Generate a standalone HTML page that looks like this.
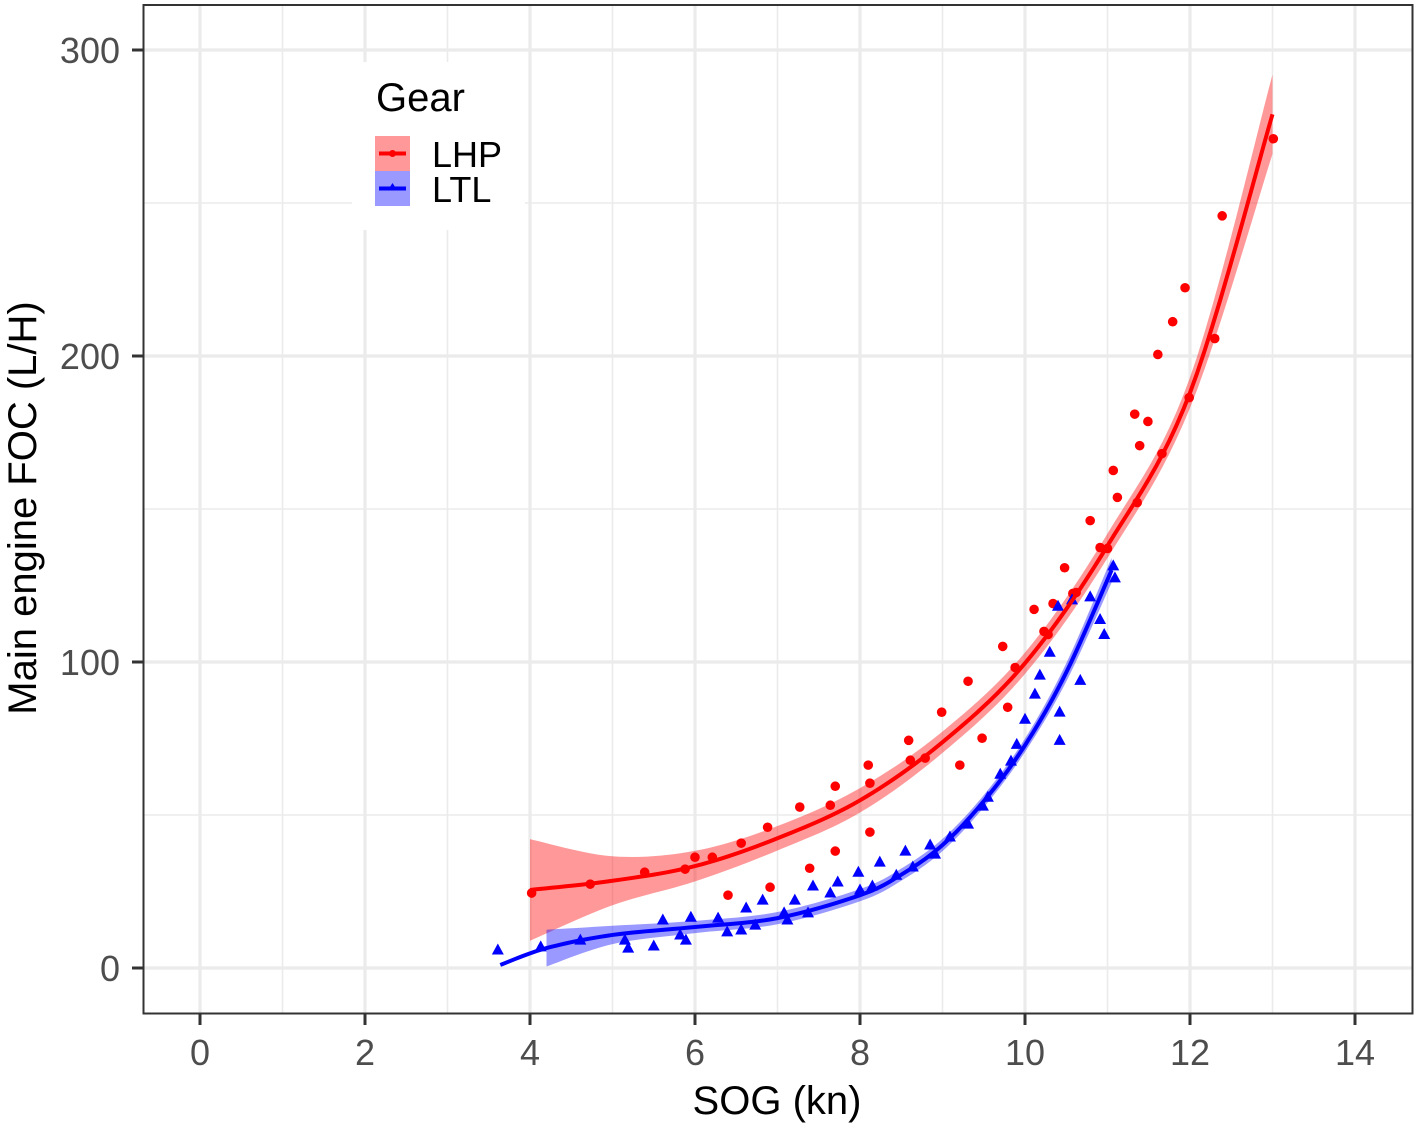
<!DOCTYPE html>
<html><head><meta charset="utf-8"><style>
html,body{margin:0;padding:0;background:#fff}
svg{display:block;font-family:"Liberation Sans",Arial,sans-serif}
</style></head><body>
<svg id="chart" width="1417" height="1127" viewBox="0 0 1417 1127">
<rect x="0" y="0" width="1417" height="1127" fill="#fff"/>
<g id="grid"></g>
<g id="bands"></g>
<g id="points"></g>
<g id="lines"></g>
<rect x="143.5" y="5" width="1269" height="1008.5" fill="none" stroke="#333" stroke-width="2"/>
<g id="axes"></g>
<text x="777" y="1114" font-size="40" text-anchor="middle" fill="#000">SOG (kn)</text>
<text transform="translate(36,508) rotate(-90)" font-size="40" text-anchor="middle" fill="#000">Main engine FOC (L/H)</text>
<g>
<rect x="352" y="62" width="173" height="168" fill="#fff"/>
<text x="376" y="111" font-size="40" fill="#000">Gear</text>
<g>
<rect x="375" y="136" width="35" height="35" fill="#ff0000" fill-opacity="0.4"/>
<line x1="379" y1="153.5" x2="406" y2="153.5" stroke="#ff0000" stroke-width="4"/>
<circle cx="392.5" cy="153.5" r="3.5" fill="#ff0000"/>
<text x="432" y="167" font-size="36" fill="#000">LHP</text>
</g>
<g>
<rect x="375" y="171" width="35" height="35" fill="#0000ff" fill-opacity="0.4"/>
<line x1="379" y1="188.5" x2="406" y2="188.5" stroke="#0000ff" stroke-width="4"/>
<polygon points="392.5,183 397,190 388,190" fill="#0000ff"/>
<text x="432" y="202" font-size="36" fill="#000">LTL</text>
</g>
</g>
</svg>
<script>
const xTicks=[0,2,4,6,8,10,12,14];
const xMinor=[1,3,5,7,9,11,13];
const yTicks=[0,100,200,300];
const yMinor=[50,150,250];
const lhpX=[4.02,4.73,5.39,5.88,6.00,6.21,6.40,6.56,6.88,6.91,7.27,7.39,7.64,7.70,7.70,8.10,8.12,8.12,8.59,8.61,8.79,8.99,9.21,9.31,9.48,9.73,9.79,9.88,10.11,10.23,10.28,10.34,10.48,10.58,10.62,10.79,10.91,11.00,11.07,11.12,11.33,11.36,11.39,11.49,11.61,11.66,11.79,11.94,11.99,12.30,12.39,13.01];
const lhpY=[24.5,27.4,31.3,32.3,36.2,36.2,23.8,40.8,46.0,26.4,52.6,32.6,53.2,59.4,38.2,66.3,44.4,60.4,74.4,67.9,68.6,83.6,66.3,93.7,75.1,105.1,85.2,98.2,117.2,110.0,109.0,119.1,130.8,122.4,122.7,146.2,137.4,137.1,162.6,153.8,181.0,152.1,170.7,178.6,200.5,168.1,211.2,222.3,186.4,205.7,245.8,271.0];
const ltlX=[3.61,4.13,4.61,5.15,5.19,5.50,5.61,5.82,5.95,5.89,6.28,6.39,6.56,6.62,6.73,6.82,7.08,7.12,7.21,7.37,7.43,7.64,7.73,7.98,8.00,8.15,8.24,8.44,8.55,8.64,8.85,8.91,9.09,9.31,9.49,9.55,9.70,9.83,9.90,10.00,10.12,10.18,10.30,10.40,10.42,10.57,10.42,10.67,10.79,11.09,11.07,10.91,10.96];
const ltlY=[5.9,6.9,9.1,9.1,6.5,7.2,15.7,10.8,16.6,9.1,16.3,11.8,12.4,19.6,14.0,22.2,18.0,15.7,22.2,18.0,26.8,24.5,28.1,31.3,25.5,26.8,34.6,30.3,38.2,33.0,40.2,37.2,42.8,47.0,52.9,55.8,63.3,67.6,73.1,81.3,89.5,95.7,103.2,118.2,83.6,120.3,74.4,94.0,121.3,127.5,131.4,113.9,109.0];
const lhpFitX=[4.0,5,6,7,8,9,10,11,12,13];
const lhpFitY=[25.5,28.5,33.3,42.4,54.8,73.8,99.6,138,188,279];
const lhpSE=[16.6,8,5,4,4,3.5,3.5,4,5,13];
const ltlFitX=[3.64,4.2,5,6,7,8,8.5,9,9.5,10,10.5,11.05];
const ltlFitY=[1,6.5,10.8,13.4,16.3,23.8,30.5,40.2,54.5,72.8,96.6,130];
const ltlBandX=[4.2,5,6,7,8,8.5,9,9.5,10,10.5,11.05];
const ltlBandY=[6.5,10.8,13.4,16.3,23.8,30.5,40.2,54.5,72.8,96.6,130];
const ltlSE=[6,3,2,2,2,2,2,2,2.2,3,4];

const NS='http://www.w3.org/2000/svg';
const sx=v=>200+v*82.5;
const sy=v=>968-v*3.06;
function mk(tag,attrs,parent){const e=document.createElementNS(NS,tag);for(const k in attrs)e.setAttribute(k,attrs[k]);parent.appendChild(e);return e;}
function interp(xs,ys,n){const out=[];for(let i=0;i<xs.length-1;i++){const p0=i>0?i-1:i,p3=i+2<xs.length?i+2:i+1;for(let t=0;t<n;t++){const u=t/n;const f=(a,b,c,d)=>0.5*((2*b)+(-a+c)*u+(2*a-5*b+4*c-d)*u*u+(-a+3*b-3*c+d)*u*u*u);out.push([f(xs[p0],xs[i],xs[i+1],xs[p3]),f(ys[p0],ys[i],ys[i+1],ys[p3])]);}}out.push([xs[xs.length-1],ys[ys.length-1]]);return out;}
const grid=document.getElementById('grid');
xMinor.forEach(v=>{const l=mk('line',{x1:sx(v),x2:sx(v),y1:5,y2:1013,stroke:'#ebebeb','stroke-width':1.6},grid);

});
yMinor.forEach(v=>{const l=mk('line',{x1:144,x2:1412,y1:sy(v),y2:sy(v),stroke:'#ebebeb','stroke-width':1.6},grid);

});
xTicks.forEach(v=>{const l=mk('line',{x1:sx(v),x2:sx(v),y1:5,y2:1013,stroke:'#ebebeb','stroke-width':3.2},grid);

});
yTicks.forEach(v=>{const l=mk('line',{x1:144,x2:1412,y1:sy(v),y2:sy(v),stroke:'#ebebeb','stroke-width':3.2},grid);

});
const axes=document.getElementById('axes');
xTicks.forEach(v=>{const t=mk('line',{x1:sx(v),x2:sx(v),y1:1014,y2:1025,stroke:'#333','stroke-width':3},axes);


const tx=mk('text',{x:sx(v),y:1065,'font-size':36,'text-anchor':'middle',fill:'#4d4d4d'},axes);tx.textContent=v;

});
yTicks.forEach(v=>{const t=mk('line',{x1:132,x2:143,y1:sy(v),y2:sy(v),stroke:'#333','stroke-width':3},axes);


const tx=mk('text',{x:120,y:sy(v)+13,'font-size':36,'text-anchor':'end',fill:'#4d4d4d'},axes);tx.textContent=v;

});
function band(xs,ys,se,color,name){const up=interp(xs,ys.map((y,i)=>y+se[i]),12),lo=interp(xs,ys.map((y,i)=>y-se[i]),12);
const pts=up.map(p=>sx(p[0])+','+sy(p[1])).concat(lo.reverse().map(p=>sx(p[0])+','+sy(p[1])));
const p=mk('polygon',{points:pts.join(' '),fill:color,'fill-opacity':0.4},document.getElementById('bands'));

}
band(lhpFitX,lhpFitY,lhpSE,'#ff0000','lhp-confidence-band');
band(ltlBandX,ltlBandY,ltlSE,'#0000ff','ltl-confidence-band');
const pg=document.getElementById('points');
lhpX.forEach((x,i)=>{const c=mk('circle',{cx:sx(x),cy:sy(lhpY[i]),r:4.8,fill:'#ff0000'},pg);

});
ltlX.forEach((x,i)=>{const X=sx(x),Y=sy(ltlY[i]);const p=mk('polygon',{points:`${X},${Y-6.5} ${X+6},${Y+4.5} ${X-6},${Y+4.5}`,fill:'#0000ff'},pg);

});
function line(xs,ys,color,name){const pts=interp(xs,ys,12).map(p=>sx(p[0])+','+sy(p[1]));
const l=mk('polyline',{points:pts.join(' '),fill:'none',stroke:color,'stroke-width':4,'stroke-linejoin':'round'},document.getElementById('lines'));

}
line(lhpFitX,lhpFitY,'#ff0000','lhp-fit-line');
line(ltlFitX,ltlFitY,'#0000ff','ltl-fit-line');
</script>
</body></html>
